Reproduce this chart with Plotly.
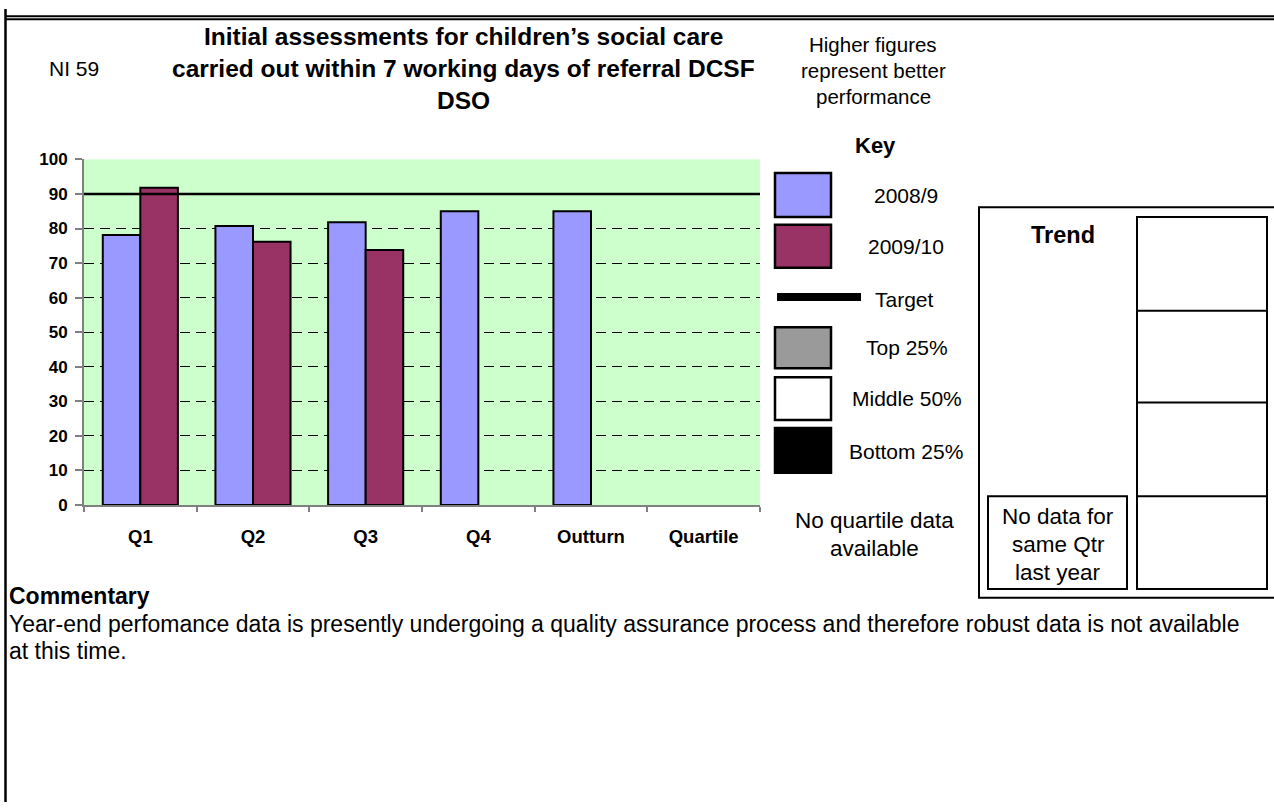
import plotly.graph_objects as go

# ---------------- data ----------------
CATEGORIES = ["Q1", "Q2", "Q3", "Q4", "Outturn", "Quartile"]
SERIES_2008_9 = [78.1, 80.7, 81.8, 85.0, 85.0, None]
SERIES_2009_10 = [91.8, 76.2, 73.8, None, None, None]
TARGET = 90
Y_TICKS = [0, 10, 20, 30, 40, 50, 60, 70, 80, 90, 100]

TITLE_LINES = [
    "Initial assessments for children\u2019s social care",
    "carried out within 7 working days of referral DCSF",
    "DSO",
]
INDICATOR = "NI 59"
NOTE_LINES = ["Higher figures", "represent better", "performance"]
KEY_LABELS = ["2008/9", "2009/10", "Target", "Top 25%", "Middle 50%", "Bottom 25%"]
QUARTILE_NOTE = ["No quartile data", "available"]
TREND_LABEL = "Trend"
TREND_NOTE = ["No data for", "same Qtr", "last year"]
COMMENTARY_TITLE = "Commentary"
COMMENTARY_LINES = [
    "Year-end perfomance data is presently undergoing a quality assurance process and therefore robust data is not available",
    "at this time.",
]

# ---------------- styling ----------------
W, H = 1274, 808
FONT = "Liberation Sans"
BLUE = "#9999FF"
MAROON = "#993366"
PLOT_BG = "#CCFFCC"


def px(x):
    return x / W


def py(y):
    return 1 - y / H


fig = go.Figure()
fig.add_bar(x=CATEGORIES, y=SERIES_2008_9, name=KEY_LABELS[0],
            marker=dict(color=BLUE, line=dict(color="black", width=2)))
fig.add_bar(x=CATEGORIES, y=SERIES_2009_10, name=KEY_LABELS[1],
            marker=dict(color=MAROON, line=dict(color="black", width=2)))

fig.update_layout(
    width=W, height=H,
    margin=dict(l=0, r=0, t=0, b=0),
    paper_bgcolor="white",
    plot_bgcolor=PLOT_BG,
    barmode="group", bargap=1 / 3, bargroupgap=0,
    showlegend=False,
    xaxis=dict(
        domain=[px(84), px(760)], type="category", range=[-0.5, 5.5],
        showline=True, linecolor="#808080", linewidth=2,
        ticks="outside", tickson="boundaries", ticklen=5, tickcolor="#808080", tickwidth=1.5,
        tickfont=dict(family=FONT, size=18.5, color="black", weight="bold"),
        ticklabelstandoff=14,
        showgrid=False, fixedrange=True,
    ),
    yaxis=dict(
        domain=[py(508), py(154)], range=[0, 100],
        tickmode="array", tickvals=Y_TICKS,
        showline=True, linecolor="#808080", linewidth=2,
        ticks="outside", ticklen=7, tickcolor="#808080", tickwidth=1.5,
        tickfont=dict(family=FONT, size=17, color="black", weight="bold"),
        ticklabelstandoff=4,
        showgrid=True, gridcolor="black", griddash="10px,6px", gridwidth=1,
        zeroline=False, fixedrange=True,
    ),
)

# target line (y in data coordinates)
fig.add_shape(type="line", xref="paper", yref="y", x0=px(84), x1=px(760),
              y0=TARGET, y1=TARGET, line=dict(color="black", width=2.5), layer="above")


def text(x, y, s, size, bold=False, xanchor="center"):
    fig.add_annotation(x=px(x), y=py(y), xref="paper", yref="paper", text=s,
                       showarrow=False, xanchor=xanchor, yanchor="middle",
                       font=dict(family=FONT, size=size, color="black",
                                 weight="bold" if bold else "normal"))


def rect(x0, y0, x1, y1, fill="rgba(0,0,0,0)", width=2):
    fig.add_shape(type="rect", xref="paper", yref="paper",
                  x0=px(x0), x1=px(x1), y0=py(y1), y1=py(y0),
                  line=dict(color="black", width=width), fillcolor=fill)


def hline(x0, x1, y, width=2):
    fig.add_shape(type="line", xref="paper", yref="paper",
                  x0=px(x0), x1=px(x1), y0=py(y), y1=py(y),
                  line=dict(color="black", width=width))


def vline(x, y0, y1, width=2):
    fig.add_shape(type="line", xref="paper", yref="paper",
                  x0=px(x), x1=px(x), y0=py(y0), y1=py(y1),
                  line=dict(color="black", width=width))


# outer frame
hline(5, 1280, 7.5, 2)
hline(5, 1280, 10.5, 2)
vline(5.5, 0, 812, 2.5)

# titles
for i, line in enumerate(TITLE_LINES):
    text(463, 28 + i * 33, line, 24.5, bold=True)
text(74, 61, INDICATOR, 21)
for i, line in enumerate(NOTE_LINES):
    text(873, 36 + i * 27, line, 20.5)

# key
text(875, 140, "Key", 22, bold=True)
rect(775, 168, 831, 213, BLUE, 2.5)
text(906, 191, KEY_LABELS[0], 21)
rect(775, 221, 831, 265, MAROON, 2.5)
text(906, 243, KEY_LABELS[1], 21)
hline(777, 861, 295, 8)
text(873, 297, KEY_LABELS[2], 21, xanchor="left")
rect(775, 326, 831, 368, "#9a9a9a", 2.5)
text(907, 347, KEY_LABELS[3], 21)
rect(775, 377, 831, 421, "white", 2.5)
text(907, 399, KEY_LABELS[4], 21)
rect(775, 429, 831, 475, "black", 2.5)
text(906, 453, KEY_LABELS[5], 21)
text(874, 524, QUARTILE_NOTE[0], 22.5)
text(874, 553, QUARTILE_NOTE[1], 22.5)

# trend panel
rect(979, 203, 1290, 603, width=2)
text(1063, 231, TREND_LABEL, 23.5, bold=True)
rect(1137, 213, 1267, 594, width=2)
hline(1137, 1267, 309, 2)
hline(1137, 1267, 403, 2)
hline(1137, 1267, 499, 2)
rect(988, 499, 1127, 594, width=2)
for i, line in enumerate(TREND_NOTE):
    text(1058, 520 + i * 28.5, line, 22.5)

# commentary
text(7, 601, COMMENTARY_TITLE, 23, bold=True, xanchor="left")
text(7, 630, COMMENTARY_LINES[0], 23, xanchor="left")
text(7, 657, COMMENTARY_LINES[1], 23, xanchor="left")

fig.write_html(
    "out.html",
    config={"displayModeBar": False},
    post_script=(
        "document.documentElement.style.margin='0';"
        "document.documentElement.style.padding='0';"
        "document.body.style.margin='0';"
        "document.body.style.padding='0';"
        "document.body.style.overflow='hidden';"
        "var d=document.getElementById('{plot_id}');"
        "d.style.position='fixed';d.style.left='0px';d.style.top='0px';"
    ),
)
